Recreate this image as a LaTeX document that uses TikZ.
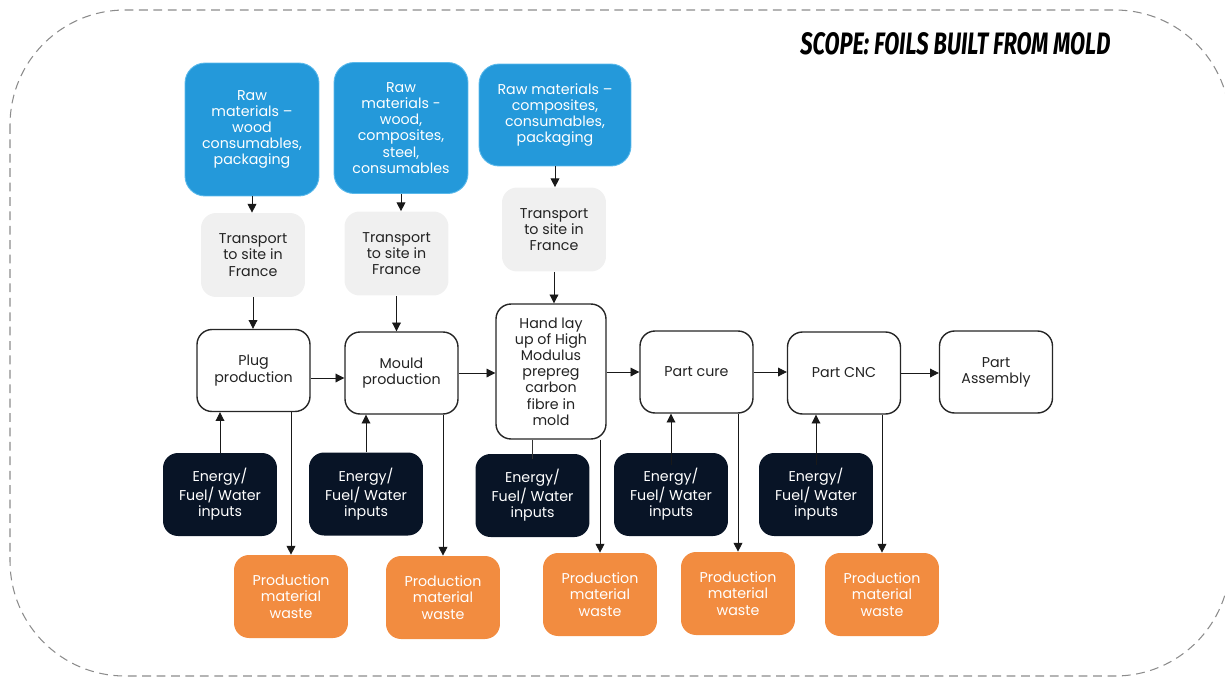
\documentclass[tikz,border=0pt]{standalone}
\usepackage{fontspec}
\setmainfont{Poppins}
\newfontfamily\titlefont{Fira Sans}
\usetikzlibrary{arrows.meta,calc}
\definecolor{rawblue}{RGB}{36,153,218}
\definecolor{rawedge}{RGB}{90,185,235}
\definecolor{transgrey}{RGB}{240,240,240}
\definecolor{inputnavy}{RGB}{8,20,38}
\definecolor{wasteorange}{RGB}{242,140,64}
\definecolor{scopegrey}{RGB}{140,140,140}
\definecolor{textdark}{RGB}{35,35,35}

\begin{document}
\begin{tikzpicture}[x=0.02cm,y=-0.02cm,
    every node/.style={font=\fontsize{8.1}{9.2}\selectfont,align=center,inner sep=0pt},
    raw/.style={fill=rawblue,draw=rawedge,line width=0.5pt,text=white,rounded corners=0.4cm},
    trans/.style={fill=transgrey,text=textdark,rounded corners=0.3cm,minimum width=2.08cm,minimum height=1.68cm},
    proc/.style={draw=black!85,line width=0.8pt,fill=white,text=textdark,rounded corners=0.3cm,minimum width=2.26cm,minimum height=1.64cm},
    inputs/.style={fill=inputnavy,text=white,rounded corners=0.3cm,minimum width=2.28cm,minimum height=1.66cm},
    waste/.style={fill=wasteorange,text=white,rounded corners=0.3cm,minimum width=2.28cm,minimum height=1.66cm},
    arr/.style={-{Triangle[length=5pt,width=5pt]},line width=0.5pt,black!90},
    link/.style={line width=0.5pt,black!80}]
    \useasboundingbox (0,0) rectangle (1225,677);
    % scope frame
    \begin{scope}
      \clip (0,0) rectangle (1225,677);
      \draw[scopegrey,line width=0.6pt,dash pattern=on 5pt off 3.2pt,rounded corners=2.3cm] (10,10) rectangle (1230,676);
    \end{scope}
    \node[anchor=south west] (title) at (800,55) {\resizebox{6.2cm}{0.44cm}{\titlefont\bfseries\itshape SCOPE: FOILS BUILT FROM MOLD}};

    % raw materials
    \node[raw,minimum width=2.68cm,minimum height=2.66cm] (raw1) at (252,129.5) {Raw\\materials --\\wood\\consumables,\\packaging};
    \node[raw,minimum width=2.68cm,minimum height=2.62cm] (raw2) at (401,128) {Raw\\materials -\\wood,\\composites,\\steel,\\consumables};
    \node[raw,minimum width=3.04cm,minimum height=2.04cm] (raw3) at (555,115) {Raw materials --\\composites,\\consumables,\\packaging};

    % transport
    \node[trans] (trans1) at (253,255) {Transport\\to site in\\France};
    \node[trans] (trans2) at (396.5,253.5) {Transport\\to site in\\France};
    \node[trans] (trans3) at (554,229.5) {Transport\\to site in\\France};

    % process steps
    \node[proc] (plug) at (253.5,370.5) {Plug\\production};
    \node[proc] (mould) at (401.5,373) {Mould\\production};
    \node[proc,minimum width=2.2cm,minimum height=2.7cm] (handlay) at (551,371.5) {Hand lay\\up of High\\Modulus\\prepreg\\carbon\\fibre in\\mold};
    \node[proc] (cure) at (696.5,372) {Part cure};
    \node[proc] (cnc) at (844,373) {Part CNC};
    \node[proc] (assembly) at (996,372) {Part\\Assembly};

    % energy inputs
    \node[inputs] (in1) at (220,494.5) {Energy/\\Fuel/ Water\\inputs};
    \node[inputs] (in2) at (366,494) {Energy/\\Fuel/ Water\\inputs};
    \node[inputs] (in3) at (532.5,495.5) {Energy/\\Fuel/ Water\\inputs};
    \node[inputs] (in4) at (671,494.5) {Energy/\\Fuel/ Water\\inputs};
    \node[inputs] (in5) at (816,494.5) {Energy/\\Fuel/ Water\\inputs};

    % waste
    \node[waste] (waste1) at (291,596.5) {Production\\material\\waste};
    \node[waste] (waste2) at (443,597.5) {Production\\material\\waste};
    \node[waste] (waste3) at (600,594.5) {Production\\material\\waste};
    \node[waste] (waste4) at (738,593.5) {Production\\material\\waste};
    \node[waste] (waste5) at (882,594.5) {Production\\material\\waste};

    % supply chain
    \draw[arr] (raw1.south) -- (raw1.south |- trans1.north);
    \draw[arr] (raw2.south) -- (raw2.south |- trans2.north);
    \draw[arr] (raw3.south) -- (raw3.south |- trans3.north);
    \draw[arr] (trans1.south) -- (trans1.south |- plug.north);
    \draw[arr] (trans2.south) -- (trans2.south |- mould.north);
    \draw[arr] (trans3.south) -- (trans3.south |- handlay.north);

    % main flow
    \draw[arr] ([yshift=-0.15cm]plug.east) -- ([yshift=-0.15cm]plug.east -| mould.west);
    \draw[arr] (mould.east) -- (mould.east -| handlay.west);
    \draw[arr] (cure.west -| handlay.east) -- (cure.west);
    \draw[arr] (cure.east) -- (cure.east -| cnc.west);
    \draw[arr] (cnc.east) -- (cnc.east -| assembly.west);

    % inputs
    \draw[arr] (in1.north) -- (in1.north |- plug.south);
    \draw[arr] (in2.north) -- (in2.north |- mould.south);
    \draw[link] (handlay.south -| in3.north) -- ([yshift=-0.1cm]in3.north);
    \draw[arr] ([yshift=-0.25cm]in4.north) -- (in4.north |- cure.south);
    \draw[arr] ([yshift=-0.25cm]in5.north) -- (in5.north |- cnc.south);

    % waste
    \draw[arr] (plug.south -| waste1.north) -- (waste1.north);
    \draw[arr] (mould.south -| waste2.north) -- (waste2.north);
    \draw[arr] (handlay.south -| waste3.north) -- (waste3.north);
    \draw[arr] (cure.south -| waste4.north) -- (waste4.north);
    \draw[arr] (cnc.south -| waste5.north) -- (waste5.north);
\end{tikzpicture}
\end{document}
